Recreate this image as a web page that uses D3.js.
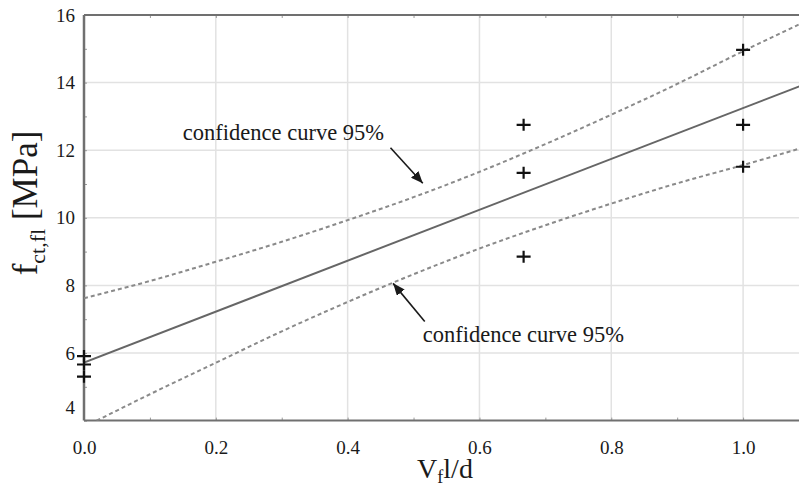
<!DOCTYPE html>
<html>
<head>
<meta charset="utf-8">
<script src="https://cdn.jsdelivr.net/npm/d3@7"></script>
<style>
  html, body { margin: 0; padding: 0; background: #fff; }
  svg { display: block; }
  text { font-family: "Liberation Serif", "Times New Roman", serif; fill: #1a1a1a; }
</style>
</head>
<body>
<svg id="chart" width="799" height="486"></svg>
<script>
// Measured specimens: fibre factor vs flexural tensile strength
const pointX = [0, 0, 0, 0.667, 0.667, 0.667, 1.0, 1.0, 1.0];
const pointY = [5.91, 5.66, 5.30, 12.75, 11.33, 8.85, 14.97, 12.75, 11.51];

// Regression line end points
const fitX = [0, 1.1];
const fitY = [5.72, 14.0];

// 95% confidence curves sampled along x
const bandX = [0, 0.1, 0.2, 0.3, 0.4, 0.5, 0.6, 0.7, 0.8, 0.9, 1.0, 1.1];
const upperBand = [7.62, 8.13, 8.70, 9.29, 9.93, 10.61, 11.36, 12.18, 13.05, 13.96, 14.93, 15.86];
const lowerBand = [3.81, 4.78, 5.71, 6.64, 7.51, 8.33, 9.09, 9.78, 10.42, 11.02, 11.56, 12.13];

// Axis ticks
const xTicks = [0, 0.2, 0.4, 0.6, 0.8, 1.0];
const xMinorTicks = [0.1, 0.3, 0.5, 0.7, 0.9, 1.1];
const yTicks = [4, 6, 8, 10, 12, 14, 16];
const yMinorTicks = [5, 7, 9, 11, 13, 15];

// Annotations (data coordinates): label position, arrow tail, arrow tip
const noteText = ["confidence curve 95%", "confidence curve 95%"];
const noteLabel = [[0.150, 12.30], [0.514, 6.33]];
const noteTail = [[0.465, 12.07], [0.517, 6.93]];
const noteTip = [[0.514, 11.02], [0.469, 8.06]];

const svg = d3.select("#chart");
const plotLeft = 84, plotTop = 15, plotBottom = 420.6, plotRight = 809;

const x = d3.scaleLinear().domain([0, 1.1]).range([plotLeft, plotRight]);
const y = d3.scaleLinear().domain([4, 16]).range([plotBottom, plotTop]);

const defs = svg.append("defs");
defs.append("clipPath").attr("id", "plotClip")
  .append("rect").attr("x", plotLeft).attr("y", plotTop)
  .attr("width", plotRight - plotLeft).attr("height", plotBottom - plotTop);

defs.append("marker")
  .attr("id", "arrowHead")
  .attr("viewBox", "0 0 12 10")
  .attr("refX", 12).attr("refY", 5)
  .attr("markerWidth", 12).attr("markerHeight", 10)
  .attr("markerUnits", "userSpaceOnUse")
  .attr("orient", "auto")
  .append("path").attr("d", "M0,0 L12,5 L0,10 Z").attr("fill", "#1a1a1a");

// Grid lines
const grid = svg.append("g");
grid.selectAll(".gx").data(xTicks.slice(1)).join("line")
  .attr("x1", d => x(d)).attr("x2", d => x(d))
  .attr("y1", plotTop).attr("y2", plotBottom)
  .attr("stroke", "#e2e2e2").attr("stroke-width", 1.5);
grid.selectAll(".gy").data(yTicks.slice(1, -1)).join("line")
  .attr("x1", plotLeft).attr("x2", plotRight)
  .attr("y1", d => y(d)).attr("y2", d => y(d))
  .attr("stroke", "#e2e2e2").attr("stroke-width", 1.5);

// Minor and major tick marks along the frame
const tickColor = "#9a9a9a";
svg.append("g").attr("transform", `translate(0,${plotBottom})`)
  .call(d3.axisTop(x).tickValues(xTicks.concat(xMinorTicks)).tickSize(3).tickFormat(""))
  .call(g => g.select(".domain").remove())
  .call(g => g.selectAll("line").attr("stroke", tickColor));
svg.append("g").attr("transform", `translate(0,${plotTop})`)
  .call(d3.axisBottom(x).tickValues(xTicks.concat(xMinorTicks)).tickSize(3).tickFormat(""))
  .call(g => g.select(".domain").remove())
  .call(g => g.selectAll("line").attr("stroke", tickColor));
svg.append("g").attr("transform", `translate(${plotLeft},0)`)
  .call(d3.axisRight(y).tickValues(yTicks.concat(yMinorTicks)).tickSize(3).tickFormat(""))
  .call(g => g.select(".domain").remove())
  .call(g => g.selectAll("line").attr("stroke", tickColor));

// Tick labels
const xAxis = svg.append("g").attr("transform", `translate(0,${plotBottom})`)
  .call(d3.axisBottom(x).tickValues(xTicks).tickSize(0).tickPadding(20).tickFormat(d3.format(".1f")));
xAxis.select(".domain").remove();
xAxis.selectAll("text").attr("font-size", 19).style("font-family", "'Liberation Serif', serif").attr("fill", "#1a1a1a");

const yAxis = svg.append("g").attr("transform", `translate(${plotLeft},0)`)
  .call(d3.axisLeft(y).tickValues(yTicks).tickSize(0).tickPadding(9).tickFormat(d3.format("d")));
yAxis.select(".domain").remove();
yAxis.selectAll("text").attr("font-size", 19).style("font-family", "'Liberation Serif', serif").attr("fill", "#1a1a1a")
  .attr("dy", d => d === 4 ? "-0.35em" : "0.32em");

// Frame
const frameColor = "#707070";
svg.append("line").attr("x1", plotLeft).attr("x2", plotRight).attr("y1", plotTop).attr("y2", plotTop)
  .attr("stroke", frameColor).attr("stroke-width", 2);
svg.append("line").attr("x1", plotLeft).attr("x2", plotRight).attr("y1", plotBottom).attr("y2", plotBottom)
  .attr("stroke", frameColor).attr("stroke-width", 2);
svg.append("line").attr("x1", plotLeft).attr("x2", plotLeft).attr("y1", plotTop).attr("y2", plotBottom)
  .attr("stroke", frameColor).attr("stroke-width", 2.5);

// Curves
const plot = svg.append("g").attr("clip-path", "url(#plotClip)");
const bandLine = d3.line().x(d => x(d[0])).y(d => y(d[1])).curve(d3.curveMonotoneX);
[upperBand, lowerBand].forEach(vals => {
  plot.append("path")
    .datum(bandX.map((v, i) => [v, vals[i]]))
    .attr("d", bandLine)
    .attr("fill", "none").attr("stroke", "#8a8a8a")
    .attr("stroke-width", 2).attr("stroke-dasharray", "4,3");
});
plot.append("path")
  .datum(fitX.map((v, i) => [v, fitY[i]]))
  .attr("d", d3.line().x(d => x(d[0])).y(d => y(d[1])))
  .attr("fill", "none").attr("stroke", "#666").attr("stroke-width", 2);

// Data points as plus markers
svg.append("g").selectAll("path").data(pointX.map((v, i) => [v, pointY[i]])).join("path")
  .attr("d", d => {
    const cx = x(d[0]), cy = y(d[1]);
    return `M${cx - 7},${cy}h14M${cx},${cy - 6}v12`;
  })
  .attr("stroke", "#111").attr("stroke-width", 2.2).attr("fill", "none");

// Annotations
noteText.forEach((t, i) => {
  svg.append("text")
    .attr("x", x(noteLabel[i][0])).attr("y", y(noteLabel[i][1]))
    .attr("font-size", 22.5).text(t);
  svg.append("line")
    .attr("x1", x(noteTail[i][0])).attr("y1", y(noteTail[i][1]))
    .attr("x2", x(noteTip[i][0])).attr("y2", y(noteTip[i][1]))
    .attr("stroke", "#1a1a1a").attr("stroke-width", 1.6)
    .attr("marker-end", "url(#arrowHead)");
});

// Axis titles
const yTitle = svg.append("text")
  .attr("transform", "translate(37,203) rotate(-90)")
  .attr("text-anchor", "middle").attr("font-size", 35);
yTitle.append("tspan").text("f");
yTitle.append("tspan").attr("font-size", 22).attr("dy", 8).text("ct,fl");
yTitle.append("tspan").attr("dy", -8).text(" [MPa]");

const xTitle = svg.append("text")
  .attr("x", 445).attr("y", 478)
  .attr("text-anchor", "middle").attr("font-size", 28);
xTitle.append("tspan").text("V");
xTitle.append("tspan").attr("font-size", 18).attr("dy", 5).text("f");
xTitle.append("tspan").attr("dy", -5).text("l/d");
</script>
</body>
</html>
